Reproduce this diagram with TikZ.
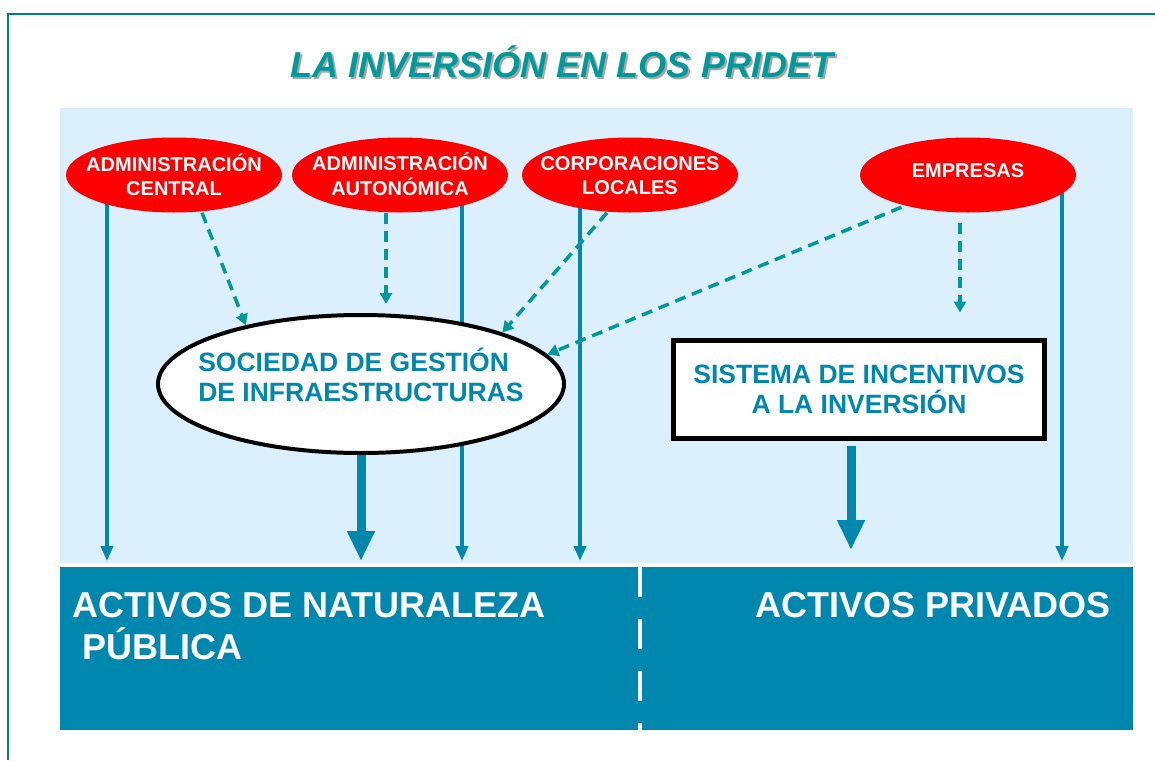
\documentclass[tikz,border=0pt]{standalone}
\usepackage{fontspec}
\setmainfont{Liberation Sans}
\usetikzlibrary{shapes.geometric,arrows.meta,calc}

\definecolor{frameteal}{RGB}{0,128,128}
\definecolor{titleteal}{RGB}{0,153,153}
\definecolor{dashteal}{RGB}{0,153,153}
\definecolor{panelblue}{RGB}{219,239,253}
\definecolor{flowblue}{RGB}{0,135,173}

\pgfdeclarelayer{lines}
\pgfsetlayers{lines,main}

% keeps the ellipse from growing around its text
\newcommand{\fitlines}[3][0pt]{\raisebox{#1}[\height][\depth]{\makebox[40pt]{\begin{tabular}{@{}#2@{}}#3\end{tabular}}}}

\tikzset{
  agent/.style={ellipse, fill=red, text=white, inner sep=0pt,
    minimum width=216pt, minimum height=75pt, font=\fontsize{20}{24}\selectfont\bfseries},
  flow/.style={draw=flowblue, line width=3.5pt, -{Triangle[length=15pt,width=12pt]}},
  bigflow/.style={draw=flowblue, line width=9pt, -{Triangle[length=30pt,width=26pt]}},
  feed/.style={draw=dashteal, line width=3.5pt, dash pattern=on 11pt off 7pt,
    -{Triangle[length=11pt,width=12pt]}},
  boxtext/.style={text=flowblue, font=\fontsize{26.5}{30}\selectfont\bfseries},
  bandtext/.style={text=white, anchor=north west, inner sep=0pt, align=left,
    font=\fontsize{36}{42}\selectfont\bfseries}
}

\begin{document}
\begin{tikzpicture}[x=1pt,y=-1pt]
    \useasboundingbox (0,0) rectangle (1155,760);

    % Frame
    \draw[frameteal, line width=1.5pt] (1155,14) -- (8,14) -- (8,760);

    % Title
    \node[text=black!35, font=\fontsize{36}{40}\selectfont\bfseries\itshape] (title-shadow) at (564,64) {LA INVERSIÓN EN LOS PRIDET};
    \node[text=titleteal, font=\fontsize{36}{40}\selectfont\bfseries\itshape] (title) at (562,62) {LA INVERSIÓN EN LOS PRIDET};

    % Investors
    \node[agent] (central) at (174,175) {\fitlines[-3pt]{c}{ADMINISTRACIÓN\\CENTRAL}};
    \node[agent] (autonomica) at (400,175) {\fitlines[-3pt]{c}{ADMINISTRACIÓN\\AUTONÓMICA}};
    \node[agent] (locales) at (630,175) {\fitlines[-3pt]{c}{CORPORACIONES\\LOCALES}};
    \node[agent] (empresas) at (968,175) {\fitlines[2pt]{c}{EMPRESAS}};

    % Instruments
    \node[ellipse, draw=black, line width=4pt, fill=white, inner sep=0pt,
          minimum width=406pt, minimum height=138pt, boxtext] (sociedad) at (361,384)
          {\fitlines[5pt]{l}{SOCIEDAD DE GESTIÓN\\DE INFRAESTRUCTURAS}};
    \node[draw=black, line width=5pt, fill=white, minimum width=371pt, minimum height=98pt,
          align=center, boxtext] (sistema) at (859,389)
          {SISTEMA DE INCENTIVOS\\A LA INVERSIÓN};

    \coordinate (bandtop) at (0,561);

    % Panels and direct investment
    \begin{pgfonlayer}{lines}
      \fill[panelblue] (60,108) rectangle (1133,563);
      \fill[flowblue] (60,567) rectangle (1133,730);
      \draw[flow] ([xshift=-67pt]central.center) -- ([xshift=-67pt]central.center |- bandtop);
      \draw[flow] ([xshift=62pt]autonomica.center) -- ([xshift=62pt]autonomica.center |- bandtop);
      \draw[flow] ([xshift=-50pt]locales.center) -- ([xshift=-50pt]locales.center |- bandtop);
      \draw[flow] ([xshift=94pt]empresas.center) -- ([xshift=94pt]empresas.center |- bandtop);
    \end{pgfonlayer}

    % Contributions
    \draw[feed] ([xshift=28pt]central.south) -- (sociedad.153);
    \draw[feed, shorten >=9pt] ([xshift=-14pt]autonomica.south) -- ([xshift=-14pt]autonomica.south |- sociedad.north);
    \draw[feed] ([xshift=-23pt]locales.south) -- (sociedad.20);
    \draw[feed, shorten <=4pt] (empresas.206) -- (sociedad.9);
    \draw[feed, shorten <=10pt, shorten >=25pt] ([xshift=-8pt]empresas.south) -- ([xshift=-8pt]empresas.south |- sistema.north);

    % Instrument outputs
    \draw[bigflow] (sociedad.south) -- (sociedad.south |- bandtop);
    \draw[bigflow, shorten <=5pt] ([xshift=-8pt]sistema.south) -- ($([xshift=-8pt]sistema.south |- bandtop)+(0,-11)$);

    % Assets
    \draw[white, line width=4pt, dash pattern=on 30pt off 22pt] (640,567) -- (640,730);
    \node[bandtext] (publicos) at (72,592) {ACTIVOS DE NATURALEZA\\\hspace*{10pt}PÚBLICA};
    \node[bandtext] (privados) at (755,592) {ACTIVOS PRIVADOS};

\end{tikzpicture}
\end{document}
